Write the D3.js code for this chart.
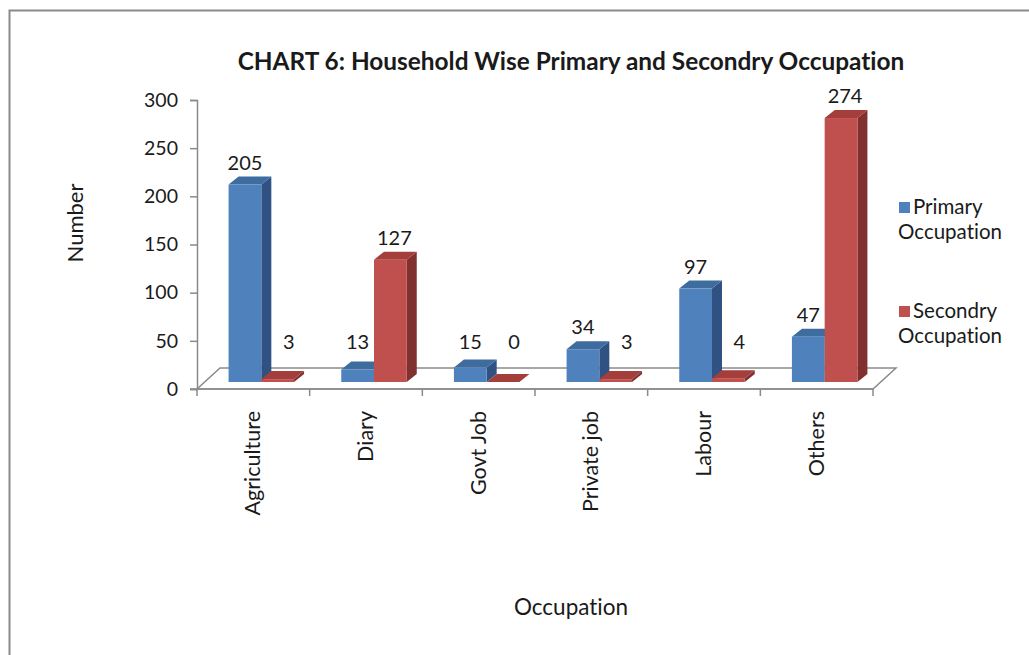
<!DOCTYPE html>
<html>
<head>
<meta charset="utf-8">
<script src="https://cdn.jsdelivr.net/npm/d3@7"></script>
<style>
  html, body { margin: 0; padding: 0; background: #fff; }
  svg { display: block; }
  text { font-family: Lato, "Open Sans", sans-serif; fill: #1a1a1a; font-variant-ligatures: none; font-feature-settings: "liga" 0, "clig" 0; }
</style>
</head>
<body>
<svg id="chart" width="1029" height="655"></svg>
<script>
// ---- data ----
const categories = ["Agriculture", "Diary", "Govt Job", "Private job", "Labour", "Others"];
const seriesNames = ["Primary Occupation", "Secondry Occupation"];
const primary = [205, 13, 15, 34, 97, 47];
const secondary = [3, 127, 0, 3, 4, 274];
const yTicks = [0, 50, 100, 150, 200, 250, 300];
const title = "CHART 6: Household Wise Primary and Secondry Occupation";
const xTitle = "Occupation";
const yTitle = "Number";

// ---- styling / layout ----
const colors = [
  { front: "#4F81BD", top: "#3F6C9F", side: "#2F5283" },
  { front: "#C0504D", top: "#A33E3B", side: "#80302E" }
];
const svg = d3.select("#chart");
const W = 1029, H = 655;
svg.append("rect").attr("width", W).attr("height", H).attr("fill", "#fff");

// outer frame (left and top edges visible)
svg.append("path")
  .attr("d", `M9.5,655 L9.5,10.5 L1029,10.5`)
  .attr("fill", "none").attr("stroke", "#8a8a8a").attr("stroke-width", 2);

const axisLeft = 197, axisRight = 873, axisBottom = 389, axisTop = 100;
const depth = { dx: 23, dy: -21 };      // floor depth
const plane = { dx: 8, dy: -7 };        // bar row offset from front
const barDepth = { dx: 10, dy: -8 };    // bar side/top depth

const x = d3.scaleBand().domain(categories).range([axisLeft, axisRight]).paddingInner(0).paddingOuter(0);
const y = d3.scaleLinear().domain([0, 300]).range([axisBottom, axisTop]);
const inner = d3.scaleBand().domain([0, 1]).range([0, x.bandwidth()]).paddingInner(0).paddingOuter(0.72);

// floor
const floorPts = [
  [axisLeft, axisBottom], [axisRight, axisBottom],
  [axisRight + depth.dx, axisBottom + depth.dy], [axisLeft + depth.dx, axisBottom + depth.dy]
];
svg.append("polygon").attr("points", floorPts.map(p => p.join(",")).join(" "))
  .attr("fill", "#fff").attr("stroke", "#8a8a8a").attr("stroke-width", 1.5);

// value axis
const yAxis = d3.axisLeft(y).tickValues(yTicks).tickSize(7).tickPadding(12);
const gy = svg.append("g").attr("transform", `translate(${axisLeft},0)`).call(yAxis);
gy.select(".domain").attr("stroke", "#8a8a8a").attr("stroke-width", 1.5);
gy.selectAll(".tick line").attr("stroke", "#8a8a8a").attr("stroke-width", 1.5);
gy.selectAll(".tick text").attr("font-size", 19.5).attr("font-family", "Lato, sans-serif").attr("fill", "#1a1a1a");

// category axis
const xAxis = d3.axisBottom(x).tickSizeOuter(0).tickSizeInner(0).tickFormat("");
const gx = svg.append("g").attr("transform", `translate(0,${axisBottom})`).call(xAxis);
gx.select(".domain").remove();
gx.append("line").attr("x1", axisLeft - 7).attr("x2", axisRight).attr("y1", 0).attr("y2", 0)
  .attr("stroke", "#8a8a8a").attr("stroke-width", 1.5);
const tickPos = categories.map(c => x(c) + x.bandwidth()).concat([axisLeft]);
gx.selectAll(".ctick").data(tickPos).enter().append("line")
  .attr("x1", d => d).attr("x2", d => d).attr("y1", 0).attr("y2", 7)
  .attr("stroke", "#8a8a8a").attr("stroke-width", 1.5);

// category labels (rotated)
svg.selectAll(".clabel").data(categories).enter().append("text")
  .attr("transform", d => `translate(${x(d) + x.bandwidth() / 2 + 7},${axisBottom + 22}) rotate(-90)`)
  .attr("text-anchor", "end").attr("font-size", 21.5).text(d => d);

// bars
const base = y(0) + plane.dy;
const series = [primary, secondary];
const bars = [];
categories.forEach((c, i) => {
  series.forEach((vals, s) => {
    const x0 = x(c) + inner(s) + plane.dx;
    const x1 = x0 + inner.bandwidth();
    const yt = y(vals[i]) + plane.dy;
    bars.push({ c, s, v: vals[i], x0, x1, yt });
  });
});
const g = svg.append("g");
bars.forEach(b => {
  const col = colors[b.s];
  const dx = barDepth.dx, dy = barDepth.dy;
  g.append("polygon").attr("points",
    [[b.x1, base], [b.x1 + dx, base + dy], [b.x1 + dx, b.yt + dy], [b.x1, b.yt]].map(p => p.join(",")).join(" "))
    .attr("fill", col.side);
  g.append("polygon").attr("points",
    [[b.x0, b.yt], [b.x0 + dx, b.yt + dy], [b.x1 + dx, b.yt + dy], [b.x1, b.yt]].map(p => p.join(",")).join(" "))
    .attr("fill", col.top);
  g.append("rect").attr("x", b.x0).attr("y", b.yt).attr("width", b.x1 - b.x0).attr("height", Math.max(0, base - b.yt))
    .attr("fill", col.front);
});

// value labels
bars.forEach(b => {
  const free = b.yt - 22;
  const clampY = base - 40;
  const clamped = free > clampY;
  const cy = clamped ? clampY : free;
  const cx = (b.x0 + b.x1) / 2 + (b.s === 1 ? (clamped ? 11 : 4) : 0);
  svg.append("text").attr("x", cx).attr("y", cy + 7).attr("text-anchor", "middle")
    .attr("font-size", 20).text(b.v);
});

// title
svg.append("text").attr("x", 571).attr("y", 70).attr("text-anchor", "middle")
  .attr("font-size", 24.4).attr("font-weight", "bold").attr("fill", "#000").text(title);

// axis titles
svg.append("text").attr("x", 571).attr("y", 615).attr("text-anchor", "middle")
  .attr("font-size", 22.5).text(xTitle);
svg.append("text").attr("transform", "translate(83,223) rotate(-90)").attr("text-anchor", "middle")
  .attr("font-size", 22).text(yTitle);

// legend
const legend = svg.append("g");
seriesNames.forEach((name, i) => {
  const ly = 202 + i * 104;
  legend.append("rect").attr("x", 899).attr("y", ly).attr("width", 11).attr("height", 11)
    .attr("fill", colors[i].front);
  const words = name.split(" ");
  legend.append("text").attr("x", 913).attr("y", ly + 12).attr("font-size", 20.5).text(words[0]);
  legend.append("text").attr("x", 898).attr("y", ly + 37).attr("font-size", 20.5).text(words.slice(1).join(" "));
});
</script>
</body>
</html>
